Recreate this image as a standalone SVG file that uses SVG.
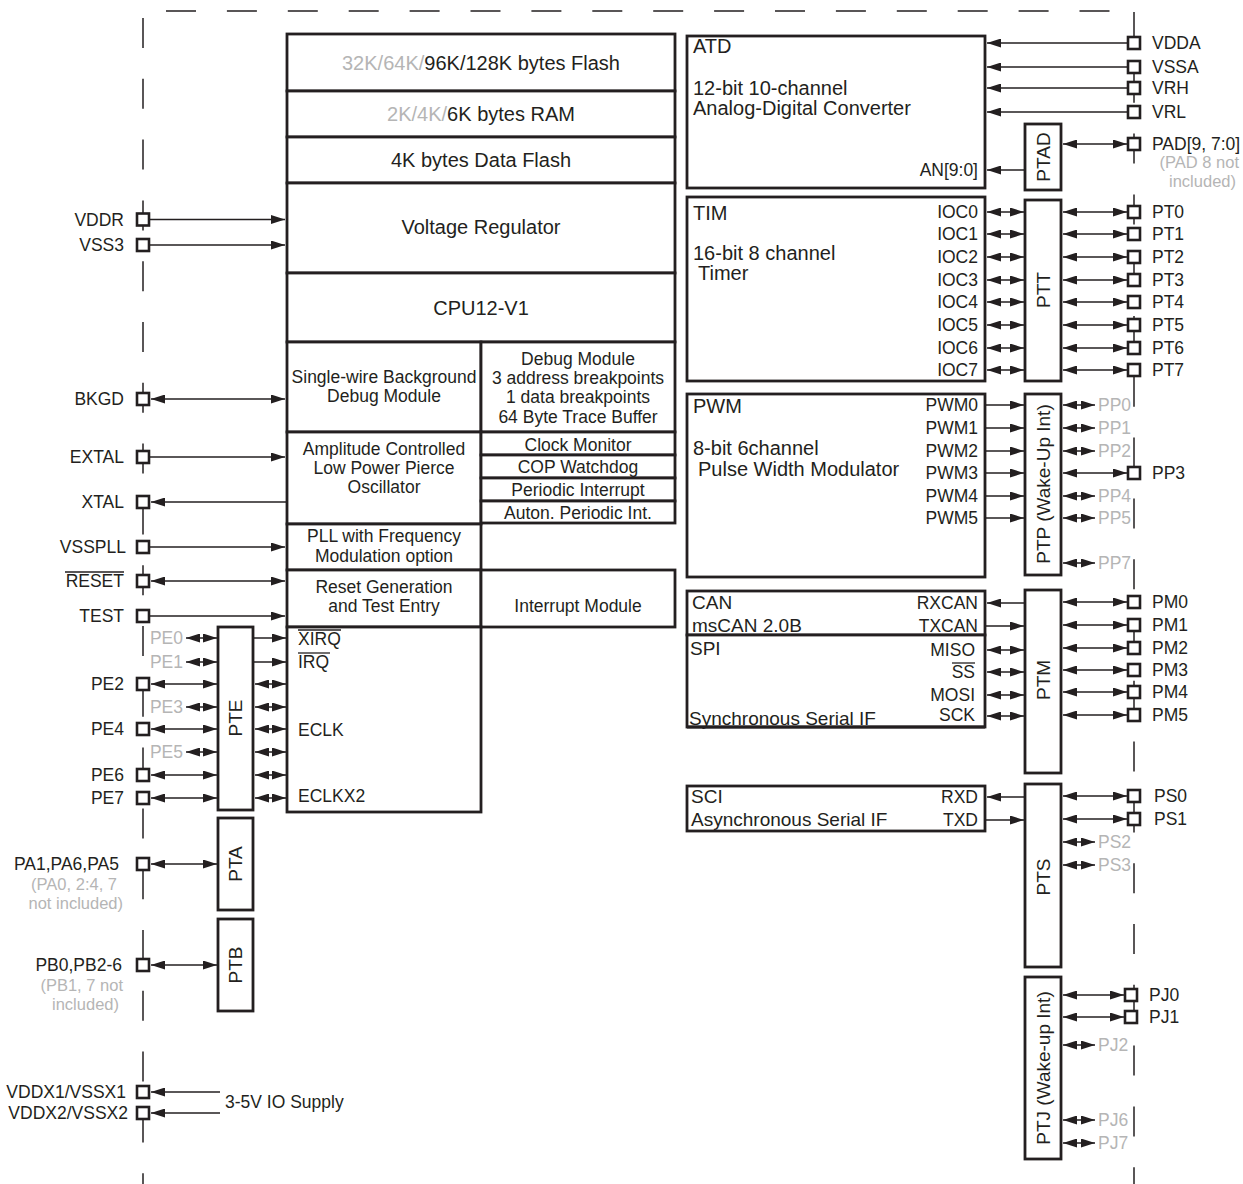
<svg xmlns="http://www.w3.org/2000/svg" width="1243" height="1184" viewBox="0 0 1243 1184">
<defs>
<style>
text{font-family:"Liberation Sans",Arial,Helvetica,sans-serif;fill:#231f20;font-size:17.5px}
.big{font-size:20px}
.mid{font-size:19px}
.rot{font-size:19px}
.g{fill:#b5b5b5}
.sm{font-size:16.5px}
.box{fill:#fff;stroke:#231f20;stroke-width:2.8}
.pin{fill:#fff;stroke:#231f20;stroke-width:2.6}
.w{stroke:#231f20;stroke-width:1.5;fill:none}
.a{marker-end:url(#ah)}
.ab{marker-start:url(#ah);marker-end:url(#ah)}
.dash{stroke:#231f20;stroke-width:1.5;stroke-dasharray:30 30.8;fill:none}
.ov{stroke:#231f20;stroke-width:1.3}
.e{text-anchor:end}
.m{text-anchor:middle}
</style>
<marker id="ah" viewBox="0 0 14 9" refX="14" refY="4.5" markerWidth="14" markerHeight="9" markerUnits="userSpaceOnUse" orient="auto-start-reverse"><path d="M0,0L14,4.5L0,9z" fill="#231f20"/></marker>
</defs>
<rect width="1243" height="1184" fill="#fff"/>
<g id="boundary">
<line class="dash" x1="166" y1="11" x2="1110" y2="11" style="stroke-dasharray:30 30.9"/>
<line class="dash" x1="143" y1="18" x2="143" y2="1184"/>
<line class="dash" x1="1134" y1="12" x2="1134" y2="1184"/>
</g>
<g id="connectors" class="w">
<line class="a" x1="150" y1="219.5" x2="285" y2="219.5"/>
<line class="a" x1="150" y1="245" x2="285" y2="245"/>
<line class="ab" x1="151" y1="399" x2="285" y2="399"/>
<line class="a" x1="150" y1="457" x2="285" y2="457"/>
<line class="a" x1="286" y1="502" x2="151" y2="502"/>
<line class="a" x1="150" y1="547" x2="285" y2="547"/>
<line class="ab" x1="151" y1="581" x2="285" y2="581"/>
<line class="a" x1="150" y1="616" x2="285" y2="616"/>
<line class="ab" x1="186" y1="638" x2="217" y2="638"/>
<line class="ab" x1="186" y1="662" x2="217" y2="662"/>
<line class="ab" x1="151" y1="684" x2="217" y2="684"/>
<line class="ab" x1="186" y1="707" x2="217" y2="707"/>
<line class="ab" x1="151" y1="729" x2="217" y2="729"/>
<line class="ab" x1="186" y1="752" x2="217" y2="752"/>
<line class="ab" x1="151" y1="775" x2="217" y2="775"/>
<line class="ab" x1="151" y1="798" x2="217" y2="798"/>
<line class="a" x1="254" y1="638" x2="286" y2="638"/>
<line class="a" x1="254" y1="662" x2="286" y2="662"/>
<line class="ab" x1="255" y1="684" x2="286" y2="684"/>
<line class="ab" x1="255" y1="707" x2="286" y2="707"/>
<line class="ab" x1="255" y1="729" x2="286" y2="729"/>
<line class="ab" x1="255" y1="752" x2="286" y2="752"/>
<line class="ab" x1="255" y1="775" x2="286" y2="775"/>
<line class="ab" x1="255" y1="798" x2="286" y2="798"/>
<line class="ab" x1="151" y1="864" x2="217" y2="864"/>
<line class="ab" x1="151" y1="965" x2="217" y2="965"/>
<line class="a" x1="220" y1="1092" x2="151" y2="1092"/>
<line class="a" x1="220" y1="1113" x2="151" y2="1113"/>
<line class="a" x1="1127" y1="43" x2="987" y2="43"/>
<line class="a" x1="1127" y1="67" x2="987" y2="67"/>
<line class="a" x1="1127" y1="88" x2="987" y2="88"/>
<line class="a" x1="1127" y1="112" x2="987" y2="112"/>
<line class="ab" x1="1063" y1="144" x2="1127" y2="144"/>
<line class="a" x1="1024" y1="170" x2="987" y2="170"/>
<line class="ab" x1="987" y1="212" x2="1024" y2="212"/>
<line class="ab" x1="987" y1="234" x2="1024" y2="234"/>
<line class="ab" x1="987" y1="257" x2="1024" y2="257"/>
<line class="ab" x1="987" y1="280" x2="1024" y2="280"/>
<line class="ab" x1="987" y1="302" x2="1024" y2="302"/>
<line class="ab" x1="987" y1="325" x2="1024" y2="325"/>
<line class="ab" x1="987" y1="348" x2="1024" y2="348"/>
<line class="ab" x1="987" y1="370" x2="1024" y2="370"/>
<line class="ab" x1="1063" y1="212" x2="1127" y2="212"/>
<line class="ab" x1="1063" y1="234" x2="1127" y2="234"/>
<line class="ab" x1="1063" y1="257" x2="1127" y2="257"/>
<line class="ab" x1="1063" y1="280" x2="1127" y2="280"/>
<line class="ab" x1="1063" y1="302" x2="1127" y2="302"/>
<line class="ab" x1="1063" y1="325" x2="1127" y2="325"/>
<line class="ab" x1="1063" y1="348" x2="1127" y2="348"/>
<line class="ab" x1="1063" y1="370" x2="1127" y2="370"/>
<line class="a" x1="986" y1="405" x2="1024" y2="405"/>
<line class="a" x1="986" y1="428" x2="1024" y2="428"/>
<line class="a" x1="986" y1="451" x2="1024" y2="451"/>
<line class="a" x1="986" y1="473" x2="1024" y2="473"/>
<line class="a" x1="986" y1="496" x2="1024" y2="496"/>
<line class="a" x1="986" y1="518" x2="1024" y2="518"/>
<line class="ab" x1="1063" y1="405" x2="1095" y2="405"/>
<line class="ab" x1="1063" y1="428" x2="1095" y2="428"/>
<line class="ab" x1="1063" y1="451" x2="1095" y2="451"/>
<line class="ab" x1="1063" y1="473" x2="1127" y2="473"/>
<line class="ab" x1="1063" y1="496" x2="1095" y2="496"/>
<line class="ab" x1="1063" y1="518" x2="1095" y2="518"/>
<line class="ab" x1="1063" y1="563" x2="1095" y2="563"/>
<line class="a" x1="1024" y1="603" x2="987" y2="603"/>
<line class="a" x1="986" y1="626" x2="1024" y2="626"/>
<line class="ab" x1="987" y1="650" x2="1024" y2="650"/>
<line class="ab" x1="987" y1="672" x2="1024" y2="672"/>
<line class="ab" x1="987" y1="695" x2="1024" y2="695"/>
<line class="ab" x1="987" y1="716" x2="1024" y2="716"/>
<line class="ab" x1="1063" y1="602" x2="1127" y2="602"/>
<line class="ab" x1="1063" y1="625" x2="1127" y2="625"/>
<line class="ab" x1="1063" y1="648" x2="1127" y2="648"/>
<line class="ab" x1="1063" y1="670" x2="1127" y2="670"/>
<line class="ab" x1="1063" y1="692" x2="1127" y2="692"/>
<line class="ab" x1="1063" y1="715" x2="1127" y2="715"/>
<line class="a" x1="1024" y1="797" x2="987" y2="797"/>
<line class="a" x1="986" y1="820" x2="1024" y2="820"/>
<line class="ab" x1="1063" y1="796" x2="1127" y2="796"/>
<line class="ab" x1="1063" y1="819" x2="1127" y2="819"/>
<line class="ab" x1="1063" y1="842" x2="1095" y2="842"/>
<line class="ab" x1="1063" y1="865" x2="1095" y2="865"/>
<line class="ab" x1="1063" y1="995" x2="1124" y2="995"/>
<line class="ab" x1="1063" y1="1017" x2="1124" y2="1017"/>
<line class="ab" x1="1063" y1="1045" x2="1095" y2="1045"/>
<line class="ab" x1="1063" y1="1120" x2="1095" y2="1120"/>
<line class="ab" x1="1063" y1="1143" x2="1095" y2="1143"/>
</g>
<g id="flash"><rect class="box" x="287" y="34" width="388" height="57"/><text class="big m" x="481" y="70"><tspan class="g">32K/64K/</tspan>96K/128K bytes Flash</text></g>
<g id="ram"><rect class="box" x="287" y="91" width="388" height="46"/><text class="big m" x="481" y="121"><tspan class="g">2K/4K/</tspan>6K bytes RAM</text></g>
<g id="dataflash"><rect class="box" x="287" y="137" width="388" height="46"/><text class="big m" x="481" y="167">4K bytes Data Flash</text></g>
<g id="vreg"><rect class="box" x="287" y="183" width="388" height="90"/><text class="big m" x="481" y="234">Voltage Regulator</text></g>
<g id="cpu"><rect class="box" x="287" y="273" width="388" height="69"/><text class="big m" x="481" y="315">CPU12-V1</text></g>
<g id="bdm"><rect class="box" x="287" y="342" width="194" height="90"/><text class="m" x="384" y="383">Single-wire Background</text><text class="m" x="384" y="402">Debug Module</text></g>
<g id="debug"><rect class="box" x="481" y="342" width="194" height="90"/><text class="m" x="578" y="365">Debug Module</text><text class="m" x="578" y="384">3 address breakpoints</text><text class="m" x="578" y="403">1 data breakpoints</text><text class="m" x="578" y="423">64 Byte Trace Buffer</text></g>
<g id="osc"><rect class="box" x="287" y="432" width="194" height="92"/><text class="m" x="384" y="455">Amplitude Controlled</text><text class="m" x="384" y="474">Low Power Pierce</text><text class="m" x="384" y="493">Oscillator</text></g>
<g id="clkmon"><rect class="box" x="481" y="432" width="194" height="23"/><text class="m" x="578" y="451">Clock Monitor</text></g>
<g id="cop"><rect class="box" x="481" y="455" width="194" height="23"/><text class="m" x="578" y="473">COP Watchdog</text></g>
<g id="pit"><rect class="box" x="481" y="478" width="194" height="23"/><text class="m" x="578" y="496">Periodic Interrupt</text></g>
<g id="api"><rect class="box" x="481" y="501" width="194" height="22"/><text class="m" x="578" y="519">Auton. Periodic Int.</text></g>
<g id="pll"><rect class="box" x="287" y="524" width="194" height="46"/><text class="m" x="384" y="542">PLL with Frequency</text><text class="m" x="384" y="562">Modulation option</text></g>
<g id="reset"><rect class="box" x="287" y="570" width="194" height="57"/><text class="m" x="384" y="593">Reset Generation</text><text class="m" x="384" y="612">and Test Entry</text></g>
<g id="intmod"><rect class="box" x="481" y="570" width="194" height="57"/><text class="m" x="578" y="612">Interrupt Module</text></g>
<g id="ext"><rect class="box" x="287" y="627" width="194" height="185"/><text x="298" y="645">XIRQ</text><line class="ov" x1="298" y1="630" x2="341" y2="630"/><text x="298" y="668">IRQ</text><line class="ov" x1="298" y1="653" x2="330" y2="653"/><text x="298" y="736">ECLK</text><text x="298" y="802">ECLKX2</text></g>
<g id="pte"><rect class="box" x="218" y="627" width="35" height="183"/><text class="rot m" transform="translate(242,718) rotate(-90)">PTE</text></g>
<g id="pta"><rect class="box" x="218" y="818" width="35" height="92"/><text class="rot m" transform="translate(242,864) rotate(-90)">PTA</text></g>
<g id="ptb"><rect class="box" x="218" y="919" width="35" height="92"/><text class="rot m" transform="translate(242,965) rotate(-90)">PTB</text></g>
<g id="atd"><rect class="box" x="687" y="36" width="298" height="152"/><text class="big" x="693" y="53">ATD</text><text class="big" x="693" y="95">12-bit 10-channel</text><text class="big" x="693" y="115">Analog-Digital Converter</text><text class="e" x="978" y="176">AN[9:0]</text></g>
<g id="ptad"><rect class="box" x="1025" y="124" width="36" height="66"/><text class="rot m" transform="translate(1050,157) rotate(-90)">PTAD</text></g>
<g id="tim"><rect class="box" x="687" y="197" width="298" height="184"/><text class="big" x="693" y="220">TIM</text><text class="big" x="693" y="260">16-bit 8 channel</text><text class="big" x="698" y="280">Timer</text>
<text class="e" x="978" y="218">IOC0</text><text class="e" x="978" y="240">IOC1</text><text class="e" x="978" y="263">IOC2</text><text class="e" x="978" y="286">IOC3</text><text class="e" x="978" y="308">IOC4</text><text class="e" x="978" y="331">IOC5</text><text class="e" x="978" y="354">IOC6</text><text class="e" x="978" y="376">IOC7</text></g>
<g id="ptt"><rect class="box" x="1025" y="200" width="36" height="181"/><text class="rot m" transform="translate(1050,290) rotate(-90)">PTT</text></g>
<g id="pwm"><rect class="box" x="687" y="394" width="298" height="183"/><text class="big" x="693" y="413">PWM</text><text class="big" x="693" y="455">8-bit 6channel</text><text class="big" x="698" y="476">Pulse Width Modulator</text>
<text class="e" x="978" y="411">PWM0</text><text class="e" x="978" y="434">PWM1</text><text class="e" x="978" y="457">PWM2</text><text class="e" x="978" y="479">PWM3</text><text class="e" x="978" y="502">PWM4</text><text class="e" x="978" y="524">PWM5</text></g>
<g id="ptp"><rect class="box" x="1025" y="394" width="36" height="181"/><text class="rot m" transform="translate(1050,484) rotate(-90)">PTP (Wake-Up Int)</text></g>
<g id="can"><rect class="box" x="687" y="591" width="298" height="44"/><text class="mid" x="692" y="609">CAN</text><text class="mid" x="692" y="632">msCAN 2.0B</text><text class="e" x="978" y="609">RXCAN</text><text class="e" x="978" y="632">TXCAN</text></g>
<g id="spi"><rect class="box" x="687" y="635" width="298" height="92"/><text class="mid" x="690" y="655">SPI</text><text class="mid" x="689" y="725">Synchronous Serial IF</text><line x1="687" y1="727" x2="985" y2="727" stroke="#231f20" stroke-width="2.8"/><text class="e" x="975" y="656">MISO</text><text class="e" x="975" y="678">SS</text><line class="ov" x1="952" y1="663" x2="975" y2="663"/><text class="e" x="975" y="701">MOSI</text><text class="e" x="975" y="721">SCK</text></g>
<g id="ptm"><rect class="box" x="1025" y="590" width="36" height="183"/><text class="rot m" transform="translate(1050,680) rotate(-90)">PTM</text></g>
<g id="sci"><rect class="box" x="687" y="786" width="298" height="45"/><text class="mid" x="691" y="803">SCI</text><text class="mid" x="691" y="826">Asynchronous Serial IF</text><text class="e" x="978" y="803">RXD</text><text class="e" x="978" y="826">TXD</text></g>
<g id="pts"><rect class="box" x="1025" y="784" width="36" height="183"/><text class="rot m" transform="translate(1050,877) rotate(-90)">PTS</text></g>
<g id="ptj"><rect class="box" x="1025" y="977" width="36" height="182"/><text class="rot m" transform="translate(1050,1068) rotate(-90)">PTJ (Wake-up Int)</text></g>
<g id="left-pins">
<g id="pin-vddr"><rect class="pin" x="137" y="213.5" width="12" height="12"/><text class="e" x="124" y="226">VDDR</text></g>
<g id="pin-vss3"><rect class="pin" x="137" y="239" width="12" height="12"/><text class="e" x="124" y="251">VSS3</text></g>
<g id="pin-bkgd"><rect class="pin" x="137" y="393" width="12" height="12"/><text class="e" x="124" y="405">BKGD</text></g>
<g id="pin-extal"><rect class="pin" x="137" y="451" width="12" height="12"/><text class="e" x="124" y="463">EXTAL</text></g>
<g id="pin-xtal"><rect class="pin" x="137" y="496" width="12" height="12"/><text class="e" x="124" y="508">XTAL</text></g>
<g id="pin-vsspll"><rect class="pin" x="137" y="541" width="12" height="12"/><text class="e" x="126" y="553">VSSPLL</text></g>
<g id="pin-reset"><rect class="pin" x="137" y="575" width="12" height="12"/><text class="e" x="124" y="587">RESET</text><line class="ov" x1="65" y1="572" x2="124" y2="572"/></g>
<g id="pin-test"><rect class="pin" x="137" y="610" width="12" height="12"/><text class="e" x="124" y="622">TEST</text></g>
<g id="pe-grey"><text class="e g" x="183" y="644">PE0</text><text class="e g" x="183" y="668">PE1</text><text class="e g" x="183" y="713">PE3</text><text class="e g" x="183" y="758">PE5</text></g>
<g id="pin-pe2"><rect class="pin" x="137" y="678" width="12" height="12"/><text class="e" x="124" y="690">PE2</text></g>
<g id="pin-pe4"><rect class="pin" x="137" y="723" width="12" height="12"/><text class="e" x="124" y="735">PE4</text></g>
<g id="pin-pe6"><rect class="pin" x="137" y="769" width="12" height="12"/><text class="e" x="124" y="781">PE6</text></g>
<g id="pin-pe7"><rect class="pin" x="137" y="792" width="12" height="12"/><text class="e" x="124" y="804">PE7</text></g>
<g id="pin-pa"><rect class="pin" x="137" y="858" width="12" height="12"/><text class="e" x="119" y="870">PA1,PA6,PA5</text><text class="e g sm" x="117" y="890">(PA0, 2:4, 7</text><text class="e g sm" x="123" y="909">not included)</text></g>
<g id="pin-pb"><rect class="pin" x="137" y="959" width="12" height="12"/><text class="e" x="122" y="971">PB0,PB2-6</text><text class="e g sm" x="123" y="991">(PB1, 7 not</text><text class="e g sm" x="119" y="1010">included)</text></g>
<g id="pin-vddx1"><rect class="pin" x="137" y="1086" width="12" height="12"/><text class="e" x="126" y="1098">VDDX1/VSSX1</text></g>
<g id="pin-vddx2"><rect class="pin" x="137" y="1107" width="12" height="12"/><text class="e" x="128" y="1119">VDDX2/VSSX2</text></g>
<text x="225" y="1108">3-5V IO Supply</text>
</g>
<g id="right-pins">
<g id="pin-vdda"><rect class="pin" x="1128" y="37" width="12" height="12"/><text x="1152" y="49">VDDA</text></g>
<g id="pin-vssa"><rect class="pin" x="1128" y="61" width="12" height="12"/><text x="1152" y="73">VSSA</text></g>
<g id="pin-vrh"><rect class="pin" x="1128" y="82" width="12" height="12"/><text x="1152" y="94">VRH</text></g>
<g id="pin-vrl"><rect class="pin" x="1128" y="106" width="12" height="12"/><text x="1152" y="118">VRL</text></g>
<g id="pin-pad"><rect class="pin" x="1128" y="138" width="12" height="12"/><text x="1152" y="150">PAD[9, 7:0]</text><text class="e g sm" x="1239" y="168">(PAD 8 not</text><text class="e g sm" x="1236" y="187">included)</text></g>
<g id="pin-pt0"><rect class="pin" x="1128" y="206" width="12" height="12"/><text x="1152" y="218">PT0</text></g>
<g id="pin-pt1"><rect class="pin" x="1128" y="228" width="12" height="12"/><text x="1152" y="240">PT1</text></g>
<g id="pin-pt2"><rect class="pin" x="1128" y="251" width="12" height="12"/><text x="1152" y="263">PT2</text></g>
<g id="pin-pt3"><rect class="pin" x="1128" y="274" width="12" height="12"/><text x="1152" y="286">PT3</text></g>
<g id="pin-pt4"><rect class="pin" x="1128" y="296" width="12" height="12"/><text x="1152" y="308">PT4</text></g>
<g id="pin-pt5"><rect class="pin" x="1128" y="319" width="12" height="12"/><text x="1152" y="331">PT5</text></g>
<g id="pin-pt6"><rect class="pin" x="1128" y="342" width="12" height="12"/><text x="1152" y="354">PT6</text></g>
<g id="pin-pt7"><rect class="pin" x="1128" y="364" width="12" height="12"/><text x="1152" y="376">PT7</text></g>
<g id="pp-grey"><text class="g" x="1098" y="411">PP0</text><text class="g" x="1098" y="434">PP1</text><text class="g" x="1098" y="457">PP2</text><text class="g" x="1098" y="502">PP4</text><text class="g" x="1098" y="524">PP5</text><text class="g" x="1098" y="569">PP7</text></g>
<g id="pin-pp3"><rect class="pin" x="1128" y="467" width="12" height="12"/><text x="1152" y="479">PP3</text></g>
<g id="pin-pm0"><rect class="pin" x="1128" y="596" width="12" height="12"/><text x="1152" y="608">PM0</text></g>
<g id="pin-pm1"><rect class="pin" x="1128" y="619" width="12" height="12"/><text x="1152" y="631">PM1</text></g>
<g id="pin-pm2"><rect class="pin" x="1128" y="642" width="12" height="12"/><text x="1152" y="654">PM2</text></g>
<g id="pin-pm3"><rect class="pin" x="1128" y="664" width="12" height="12"/><text x="1152" y="676">PM3</text></g>
<g id="pin-pm4"><rect class="pin" x="1128" y="686" width="12" height="12"/><text x="1152" y="698">PM4</text></g>
<g id="pin-pm5"><rect class="pin" x="1128" y="709" width="12" height="12"/><text x="1152" y="721">PM5</text></g>
<g id="pin-ps0"><rect class="pin" x="1128" y="790" width="12" height="12"/><text x="1154" y="802">PS0</text></g>
<g id="pin-ps1"><rect class="pin" x="1128" y="813" width="12" height="12"/><text x="1154" y="825">PS1</text></g>
<g id="ps-grey"><text class="g" x="1098" y="848">PS2</text><text class="g" x="1098" y="871">PS3</text></g>
<g id="pin-pj0"><rect class="pin" x="1125" y="989" width="12" height="12"/><text x="1149" y="1001">PJ0</text></g>
<g id="pin-pj1"><rect class="pin" x="1125" y="1011" width="12" height="12"/><text x="1149" y="1023">PJ1</text></g>
<g id="pj-grey"><text class="g" x="1098" y="1051">PJ2</text><text class="g" x="1098" y="1126">PJ6</text><text class="g" x="1098" y="1149">PJ7</text></g>
</g>
</svg>
